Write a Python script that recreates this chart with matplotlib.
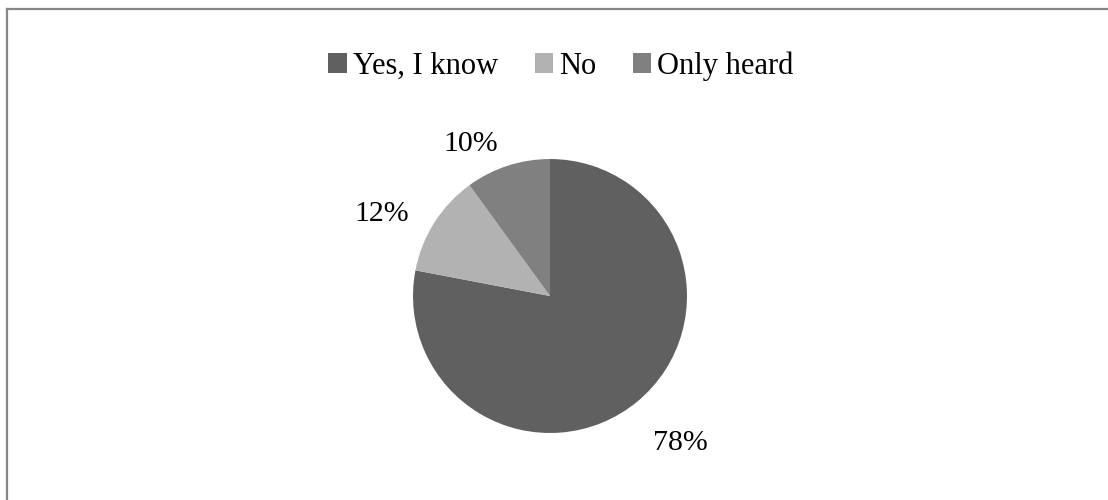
import matplotlib
matplotlib.use("Agg")
import matplotlib.pyplot as plt
from matplotlib.lines import Line2D
from matplotlib.patches import Patch
import numpy as np

categories = ["Yes, I know", "No", "Only heard"]
values = [78, 12, 10]
colors = ["#606060", "#b2b2b2", "#808080"]

plt.rcParams['font.family'] = ['Liberation Serif', 'DejaVu Serif']

W, H = 1108, 500
fig = plt.figure(figsize=(W / 100, H / 100), dpi=100)

cx, cy, side = 550, 296, 400
ax = fig.add_axes([(cx - side / 2) / W, (H - cy - side / 2) / H, side / W, side / H])

wedges, texts, autotexts = ax.pie(values, colors=colors, startangle=90, counterclock=False,
                                  autopct='%1.0f%%', pctdistance=1.35,
                                  wedgeprops=dict(linewidth=0),
                                  textprops=dict(fontsize=21.5, color='black'))
ax.set_xlim(-1.46, 1.46)
ax.set_ylim(-1.46, 1.46)
ax.set_aspect('equal')
ax.axis('off')

# nudge labels to match reference placement
offsets = [(0.95, -1.07), (-1.23, 0.6), (-0.58, 1.11)]
for t, (x, y) in zip(autotexts, offsets):
    t.set_position((x, y))
    t.set_ha('center')
    t.set_va('center')

handles = [Patch(facecolor=c, edgecolor='none') for c in colors]
fig.legend(handles, categories, loc='center', bbox_to_anchor=(561 / W, 1 - 66 / H), ncol=3,
           frameon=False, fontsize=22, handlelength=0.6, handleheight=0.6,
           handletextpad=0.2, columnspacing=1.2, borderpad=0)

fig.add_artist(Line2D([7 / W, 7 / W], [0, 1 - 8.5 / H], color='#878787', lw=1.6,
                      transform=fig.transFigure))
fig.add_artist(Line2D([7 / W, 1], [1 - 8.5 / H, 1 - 8.5 / H], color='#878787', lw=1.6,
                      transform=fig.transFigure))

fig.savefig('out.png', dpi=100, facecolor='white')
